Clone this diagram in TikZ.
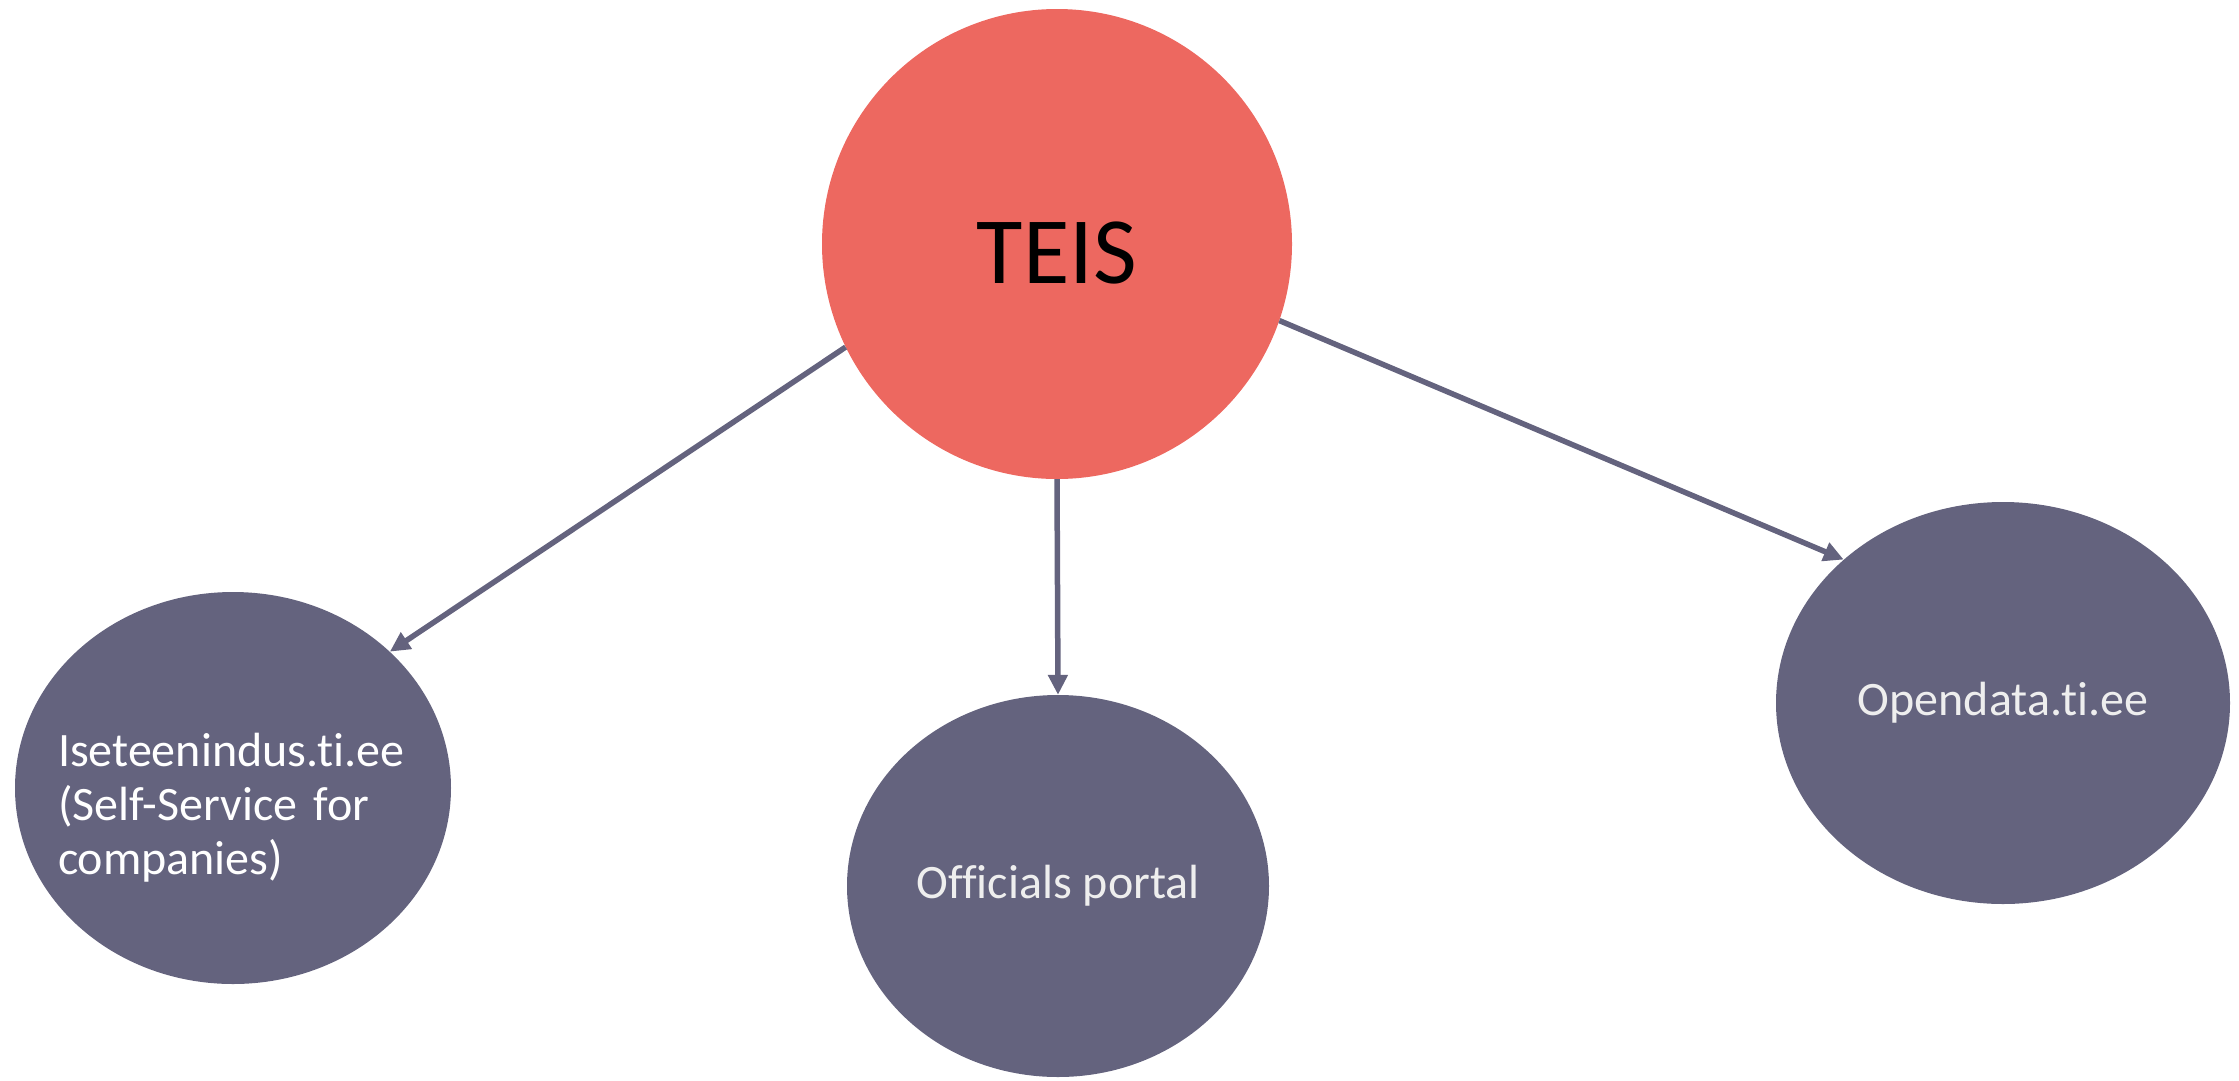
\documentclass[tikz,border=0pt]{standalone}
\usepackage{fontspec}
\setmainfont{Carlito}[Ligatures={CommonOff,ContextualOff}]
\usetikzlibrary{shapes.geometric,arrows.meta}
\definecolor{teisred}{RGB}{237,104,96}
\definecolor{portalgray}{RGB}{100,99,126}
\definecolor{labelgray}{RGB}{238,238,238}
\tikzset{
	portal/.style={ellipse,fill=portalgray,inner sep=0pt,text=labelgray,font=\fontsize{48}{48}\selectfont},
	link/.style={draw=portalgray,line width=5.5pt,-{Triangle[length=20pt,width=19pt]}}
}
\begin{document}
\begin{tikzpicture}[x=1pt,y=-1pt]
		\useasboundingbox (0,0) rectangle (2239,1080);
			\node[circle,fill=teisred,minimum size=470pt,inner sep=0pt,text height=78pt,text depth=0pt,font=\fontsize{95}{95}\selectfont] (teis) at (1057,244) {TEIS};
			\node[portal,minimum width=436pt,minimum height=392pt] (iset) at (233,788) {};
			\node[align=left,text width=360pt,text=white,font=\fontsize{48}{54}\selectfont] (isettext) at (238,808) {Iseteenindus.ti.ee\\(Self-Service for\\companies)};
			\node[portal,minimum width=422pt,minimum height=382pt] (officials) at (1058,886) {Officials portal\hspace{20pt}};
			\node[portal,minimum width=454pt,minimum height=402pt] (opendata) at (2003,703) {Opendata.ti.ee};
			\draw[link] (teis.206) -- (iset.41);
			\draw[link] (teis.south) -- (officials.north);
			\draw[link] (teis.-19) -- (opendata.138);
	\end{tikzpicture}
\end{document}
